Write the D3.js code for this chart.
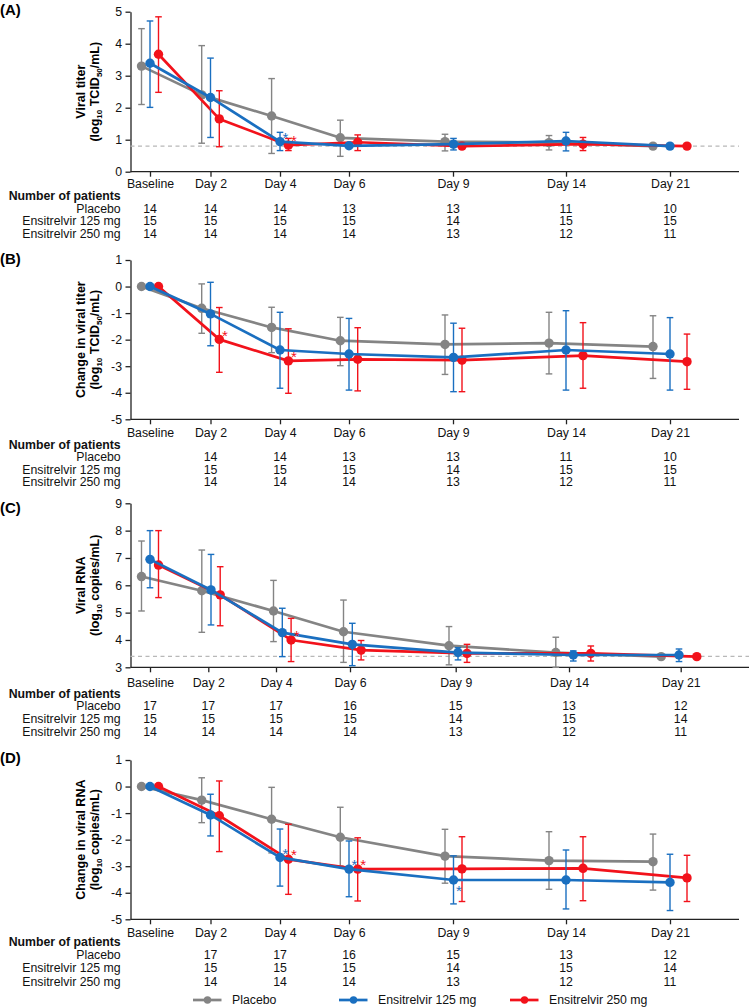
<!DOCTYPE html>
<html><head><meta charset="utf-8">
<script src="https://cdn.jsdelivr.net/npm/d3@7"></script>
<style>
body{margin:0;background:#fff}
svg{display:block}
text{font-family:"Liberation Sans",Arial,Helvetica,sans-serif}
</style>
</head><body>
<svg id="c" width="750" height="1007"></svg>
<script>
// ---------- DATA ----------
const timepoints = ["Baseline","Day 2","Day 4","Day 6","Day 9","Day 14","Day 21"];
const seriesNames = ["Placebo","Ensitrelvir 125 mg","Ensitrelvir 250 mg"];

// each entry: [mean, lower, upper]
const titerPlacebo = [[3.30,2.10,4.47],[2.40,0.89,3.94],[1.74,0.57,2.91],[1.06,0.48,1.61],[0.94,0.65,1.17],[0.91,0.68,1.13],[0.80,null,null]];
const titer125     = [[3.39,2.01,4.71],[2.32,1.07,3.55],[0.94,0.66,1.23],[0.81,null,null],[0.86,0.68,1.04],[0.96,0.65,1.23],[0.80,null,null]];
const titer250     = [[3.67,2.48,4.84],[1.65,0.78,2.53],[0.83,0.66,1.04],[0.92,0.66,1.15],[0.80,null,null],[0.86,0.66,1.07],[0.80,null,null]];

const dTiterPlacebo = [[0,null,null],[-0.82,-1.76,0.10],[-1.54,-2.49,-0.78],[-2.04,-2.98,-1.16],[-2.18,-3.31,-1.07],[-2.13,-3.29,-0.97],[-2.26,-3.46,-1.10]];
const dTiter125     = [[0,null,null],[-1.03,-2.23,0.16],[-2.39,-3.83,-0.97],[-2.54,-3.90,-1.20],[-2.67,-3.96,-1.38],[-2.39,-3.90,-0.91],[-2.54,-3.90,-1.17]];
const dTiter250     = [[0,null,null],[-1.99,-3.23,-0.79],[-2.80,-4.02,-1.59],[-2.74,-3.93,-1.55],[-2.77,-3.96,-1.57],[-2.60,-3.83,-1.36],[-2.83,-3.87,-1.79]];

const rnaPlacebo = [[6.32,5.06,7.62],[5.80,4.28,7.29],[5.06,3.94,6.18],[4.30,3.18,5.46],[3.79,3.09,4.49],[3.54,3.00,4.10],[3.39,null,null]];
const rna125     = [[6.95,5.91,8.00],[5.83,4.55,7.13],[4.27,3.39,5.16],[3.84,3.06,4.61],[3.54,3.27,3.72],[3.45,3.23,3.60],[3.45,3.21,3.67]];
const rna250     = [[6.74,5.55,8.00],[5.65,4.52,6.68],[4.00,3.21,4.79],[3.63,3.27,3.98],[3.51,3.18,3.84],[3.51,3.23,3.78],[3.39,null,null]];

const dRnaPlacebo = [[0,null,null],[-0.51,-1.36,0.33],[-1.23,-2.50,-0.03],[-1.91,-2.99,-0.78],[-2.62,-3.64,-1.61],[-2.79,-3.87,-1.70],[-2.83,-3.90,-1.79]];
const dRna125     = [[0,null,null],[-1.07,-1.86,-0.29],[-2.67,-3.75,-1.60],[-3.11,-4.15,-2.05],[-3.52,-4.42,-2.61],[-3.52,-4.61,-2.39],[-3.61,-4.67,-2.55]];
const dRna250     = [[0,null,null],[-1.10,-2.45,0.21],[-2.74,-4.06,-1.42],[-3.11,-4.31,-1.93],[-3.10,-4.33,-1.89],[-3.08,-4.30,-1.89],[-3.44,-4.33,-2.59]];

// Number of patients
const nTiterPlacebo = [14,14,14,13,13,11,10];
const nTiter125     = [15,15,15,15,14,15,15];
const nTiter250     = [14,14,14,14,13,12,11];
const nRnaPlacebo   = [17,17,17,16,15,13,12];
const nRna125       = [15,15,15,15,14,15,14];
const nRna250       = [14,14,14,14,13,12,11];

// significance markers: [series index, timepoint index, placed below?]
const sigA = [[1,2,false],[2,2,false]];
const sigB = [[2,1,false],[2,2,false]];
const sigC = [[2,2,false]];
const sigD = [[1,2,false],[2,2,false],[1,3,false],[2,3,false],[1,4,true]];

const yTicksA = [0,1,2,3,4,5];
const yTicksB = [-5,-4,-3,-2,-1,0,1];
const yTicksC = [3,4,5,6,7,8,9];
const yTicksD = [-5,-4,-3,-2,-1,0,1];

// ---------- STYLE / LAYOUT ----------
const colors = ["#848484","#1a6fc0","#f2121b"];
const AX = 130.5;
const layoutABD = {
  ticks:   [150,210.5,280,349,453,566,670],
  centers: [150,210.5,280,349,453.5,566,670],
  spread:  [8.5,8.8,8.4,8.7,8.5,17,17],
  xEnd: 739
};
const layoutC = {
  ticks:   [150,208.3,276,350,455.7,569,680.7],
  centers: [150,211,282.3,352.3,458,573.3,679],
  spread:  [8.5,9.2,8.8,8.8,9,17.5,17.8],
  xEnd: 749
};

const panels = [
  {label:"(A)", labelY:14.5, yl1:"Viral titer", unit:"TCID", domain:[0,5], yTop:11.7, yBot:171.7,
   tickPad:2.9, ticksY:yTicksA, lay:layoutABD, series:[titerPlacebo,titer125,titer250], ref:0.8,
   n:[nTiterPlacebo,nTiter125,nTiter250], nBase:true, tableY:[199.8,212.6,225.3,238], sig:sigA},
  {label:"(B)", labelY:263.5, yl1:"Change in viral titer", unit:"TCID", domain:[-5,1], yTop:260, yBot:419.3,
   tickPad:3.6, ticksY:yTicksB, lay:layoutABD, series:[dTiterPlacebo,dTiter125,dTiter250], ref:null,
   n:[nTiterPlacebo,nTiter125,nTiter250], nBase:false, tableY:[448.5,461,473.6,486.3], sig:sigB},
  {label:"(C)", labelY:513, yl1:"Viral RNA", unit:"copies", domain:[3,9], yTop:503.3, yBot:667.3,
   tickPad:6.3, ticksY:yTicksC, lay:layoutC, series:[rnaPlacebo,rna125,rna250], ref:3.4,
   n:[nRnaPlacebo,nRna125,nRna250], nBase:true, tableY:[697.5,710.3,723,736], sig:sigC},
  {label:"(D)", labelY:763, yl1:"Change in viral RNA", unit:"copies", domain:[-5,1], yTop:760, yBot:919.3,
   tickPad:4.2, ticksY:yTicksD, lay:layoutABD, series:[dRnaPlacebo,dRna125,dRna250], ref:null,
   n:[nRnaPlacebo,nRna125,nRna250], nBase:false, tableY:[945.5,958.6,972.4,986.3], sig:sigD}
];

const svg = d3.select("#c");
const FS = 12.3;
const drawOrder = [0,2,1];

panels.forEach(p => {
  const g = svg.append("g");
  const L = p.lay;
  const y = d3.scaleLinear().domain(p.domain).range([p.yBot, p.yTop]);
  const xTick = d3.scaleOrdinal(timepoints, L.ticks);
  const xC = d3.scaleOrdinal(timepoints, L.centers);
  const xS = d3.scaleOrdinal(timepoints, L.spread);
  const px = (i, s) => xC(timepoints[i]) + (s - 1) * xS(timepoints[i]);

  // panel label
  g.append("text").attr("x", 0).attr("y", p.labelY).attr("font-size", 15).attr("font-weight", "bold").text(p.label);

  // y axis
  const ya = g.append("g").attr("transform", `translate(${AX},0)`)
    .call(d3.axisLeft(y).tickValues(p.ticksY).tickSize(5).tickSizeOuter(0).tickPadding(3.5).tickFormat(d => String(d)));
  ya.selectAll("text").attr("font-size", FS).attr("font-family", null).attr("fill", "#111");
  ya.selectAll("line,path").attr("stroke", "#222").attr("stroke-width", 1.3);

  // x axis
  const xa = g.append("g").attr("transform", `translate(0,${p.yBot})`)
    .call(d3.axisBottom(xTick).tickValues(timepoints).tickSize(5).tickPadding(p.tickPad));
  xa.select(".domain").remove();
  xa.selectAll("text").attr("font-size", FS).attr("font-family", null).attr("fill", "#111");
  xa.selectAll("line").attr("stroke", "#222").attr("stroke-width", 1.3);
  g.append("line").attr("x1", AX).attr("x2", L.xEnd).attr("y1", p.yBot).attr("y2", p.yBot)
    .attr("stroke", "#222").attr("stroke-width", 1.3);

  // y label
  const cy = (p.yTop + p.yBot) / 2;
  const yl = g.append("g").attr("transform", `translate(0,${cy}) rotate(-90)`);
  yl.append("text").attr("x", 0).attr("y", 84.5).attr("text-anchor", "middle")
    .attr("font-size", 12.5).attr("font-weight", "bold").text(p.yl1);
  const t2 = yl.append("text").attr("x", 0).attr("y", 98.5).attr("text-anchor", "middle")
    .attr("font-size", 12.5).attr("font-weight", "bold");
  t2.append("tspan").text("(log");
  t2.append("tspan").attr("font-size", 8).attr("dy", 3).text("10");
  t2.append("tspan").attr("dy", -3).text(" " + p.unit);
  if (p.unit === "TCID") {
    t2.append("tspan").attr("font-size", 8).attr("dy", 3).text("50");
    t2.append("tspan").attr("dy", -3).text("/mL)");
  } else {
    t2.append("tspan").text("/mL)");
  }

  // reference line
  if (p.ref !== null) {
    g.append("line").attr("x1", AX).attr("x2", L.xEnd).attr("y1", y(p.ref)).attr("y2", y(p.ref))
      .attr("stroke", "#b8b8b8").attr("stroke-width", 1.4).attr("stroke-dasharray", "4,3.5");
  }

  // series
  drawOrder.forEach(s => {
    const data = p.series[s].map((d, i) => ({i, m: d[0], lo: d[1], hi: d[2]}));
    const sg = g.append("g");
    const eb = data.filter(d => d.lo !== null);
    sg.selectAll(".eb").data(eb).join("line")
      .attr("x1", d => px(d.i, s)).attr("x2", d => px(d.i, s))
      .attr("y1", d => y(d.lo)).attr("y2", d => y(d.hi))
      .attr("stroke", colors[s]).attr("stroke-width", 1.4);
    ["lo","hi"].forEach(k => {
      sg.selectAll(".cap" + k).data(eb).join("line")
        .attr("x1", d => px(d.i, s) - 3.3).attr("x2", d => px(d.i, s) + 3.3)
        .attr("y1", d => y(d[k])).attr("y2", d => y(d[k]))
        .attr("stroke", colors[s]).attr("stroke-width", 1.4);
    });
    sg.append("path").datum(data)
      .attr("d", d3.line().x(d => px(d.i, s)).y(d => y(d.m)))
      .attr("fill", "none").attr("stroke", colors[s]).attr("stroke-width", 2.7).attr("stroke-linejoin", "round");
    sg.selectAll("circle").data(data).join("circle")
      .attr("cx", d => px(d.i, s)).attr("cy", d => y(d.m)).attr("r", 4.7).attr("fill", colors[s]);
  });

  // significance markers
  p.sig.forEach(([s, i, below]) => {
    const m = p.series[s][i][0];
    g.append("text").attr("x", px(i, s) + 5.5).attr("y", y(m) + (below ? 15.5 : 1.2))
      .attr("text-anchor", "middle").attr("font-size", 15).attr("fill", colors[s]).text("*");
  });

  // patients table
  const tx = 120.7;
  g.append("text").attr("x", tx).attr("y", p.tableY[0]).attr("text-anchor", "end")
    .attr("font-size", FS).attr("font-weight", "bold").attr("fill", "#111").text("Number of patients");
  const rowNames = ["Placebo","Ensitrelvir 125 mg","Ensitrelvir 250 mg"];
  rowNames.forEach((nm, r) => {
    const ry = p.tableY[r + 1];
    g.append("text").attr("x", tx).attr("y", ry).attr("text-anchor", "end")
      .attr("font-size", FS).attr("fill", "#111").text(nm);
    p.n[r].forEach((v, i) => {
      if (!p.nBase && i === 0) return;
      g.append("text").attr("x", xTick(timepoints[i])).attr("y", ry).attr("text-anchor", "middle")
        .attr("font-size", FS).attr("fill", "#111").text(v);
    });
  });
});

// legend
const legX = [193, 339, 510];
const leg = svg.append("g");
seriesNames.forEach((nm, s) => {
  const x0 = legX[s];
  leg.append("line").attr("x1", x0).attr("x2", x0 + 28.5).attr("y1", 1000).attr("y2", 1000)
    .attr("stroke", colors[s]).attr("stroke-width", 2.7);
  leg.append("circle").attr("cx", x0 + 14.5).attr("cy", 1000).attr("r", 3.7).attr("fill", colors[s]);
  leg.append("text").attr("x", x0 + 39).attr("y", 1004.4).attr("font-size", FS).attr("fill", "#111").text(nm);
});
</script>
</body></html>
